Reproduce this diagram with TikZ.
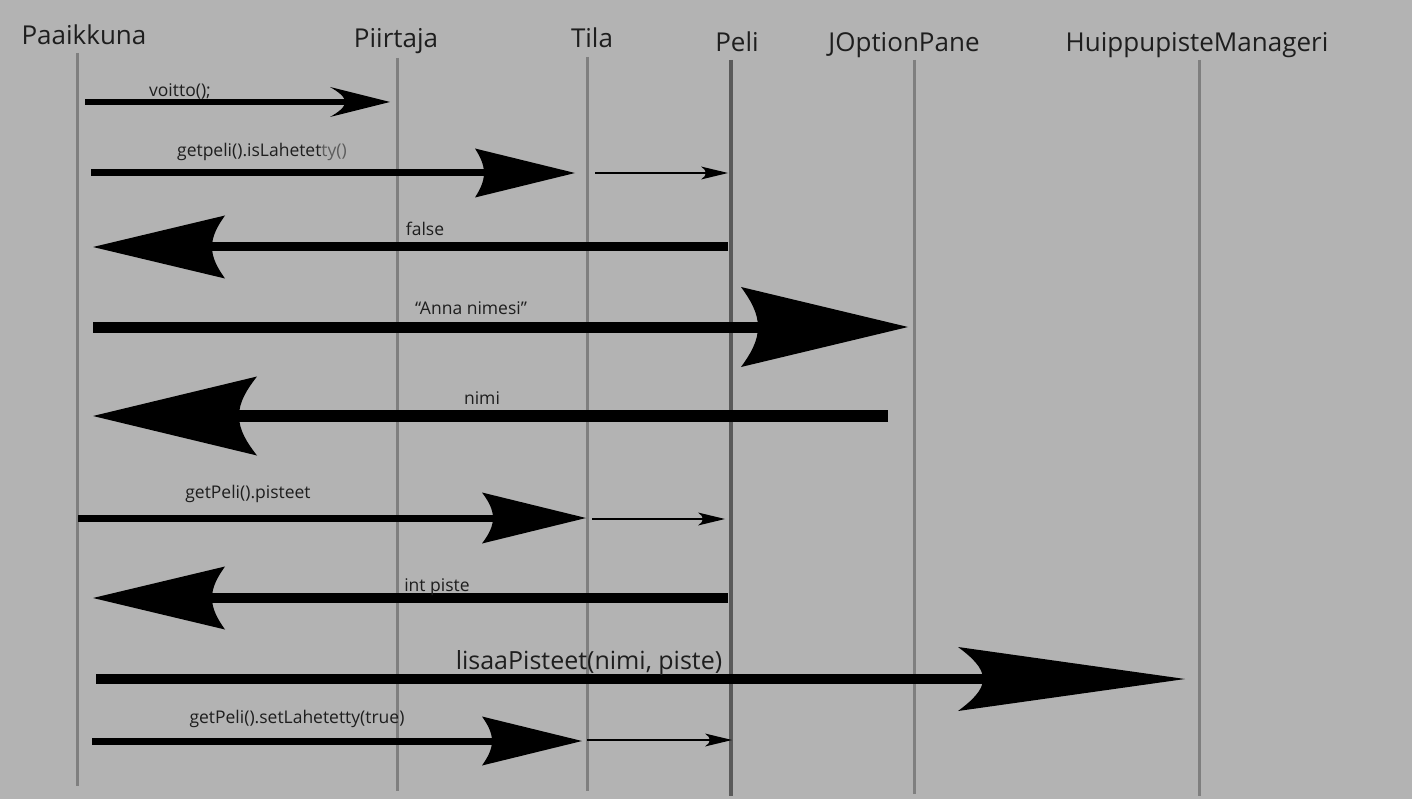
\documentclass[tikz,border=0pt]{standalone}
\usepackage{fontspec}
\setmainfont{Open Sans}
\usetikzlibrary{arrows.meta}
\pgfdeclarearrow{
  name = Barb,
  parameters = {\the\pgfarrowlength,\the\pgfarrowwidth,\the\pgfarrowinset},
  setup code = {
    \pgfarrowssettipend{0pt}
    \pgfarrowssetbackend{-\pgfarrowlength}
    \dimen0=\pgfarrowinset
    \advance\dimen0 by -\pgfarrowlength
    \advance\dimen0 by 0.5pt
    \pgfarrowssetlineend{\dimen0}
    \pgfarrowssavethe\pgfarrowlength
    \pgfarrowssavethe\pgfarrowwidth
    \pgfarrowssavethe\pgfarrowinset
  },
  drawing code = {
    \pgfpathmoveto{\pgfpointorigin}
    \pgfpathlineto{\pgfqpoint{-\pgfarrowlength}{.5\pgfarrowwidth}}
    \pgfpathcurveto
      {\pgfpoint{-\pgfarrowlength+.55*\pgfarrowinset}{.34*\pgfarrowwidth}}
      {\pgfpoint{-\pgfarrowlength+\pgfarrowinset}{.18*\pgfarrowwidth}}
      {\pgfpoint{-\pgfarrowlength+\pgfarrowinset}{0pt}}
    \pgfpathcurveto
      {\pgfpoint{-\pgfarrowlength+\pgfarrowinset}{-.18*\pgfarrowwidth}}
      {\pgfpoint{-\pgfarrowlength+.55*\pgfarrowinset}{-.34*\pgfarrowwidth}}
      {\pgfqpoint{-\pgfarrowlength}{-.5\pgfarrowwidth}}
    \pgfpathclose
    \pgfusepathqfill
  },
  defaults = {length=10pt, width=6pt, inset=2pt}
}
\definecolor{bgc}{HTML}{B3B3B3}
\definecolor{lifec}{HTML}{7F7F7F}
\definecolor{pelic}{HTML}{5A5A5A}
\definecolor{txtc}{HTML}{1E1E1E}
\definecolor{lightc}{HTML}{5C5C5C}
\begin{document}
\begin{tikzpicture}[x=1pt,y=-1pt,
  head/.style={anchor=base, inner sep=0pt, text=txtc, font=\fontsize{26}{30}\selectfont},
  lbl/.style={anchor=base, inner sep=0pt, text=txtc, font=\fontsize{17.5}{21}\selectfont},
  biglbl/.style={anchor=base, inner sep=0pt, text=txtc, font=\fontsize{25}{30}\selectfont},
  life/.style={draw=lifec, line width=3pt},
  msg/.style={draw=black},
  thin/.style={draw=black, line width=2pt, -{Barb[length=27pt,width=13pt,inset=5pt]}}
]
\fill[bgc] (0,0) rectangle (1412,799);
\useasboundingbox (0,0) rectangle (1412,799);

% headers
\node[head] (hPa) at (84,45) {Paaikkuna};
\node[head] (hPi) at (396,48) {Piirtaja};
\node[head] (hTi) at (592,48) {Tila};
\node[head] (hPe) at (737,52) {Peli};
\node[head] (hJo) at (904,52) {JOptionPane};
\node[head] (hHu) at (1197,52) {HuippupisteManageri};

% lifelines
\coordinate (tPa) at (77,53);   \coordinate (bPa) at (77,786);
\coordinate (tPi) at (397,58);  \coordinate (bPi) at (397,791);
\coordinate (tTi) at (587,57);  \coordinate (bTi) at (587,791);
\coordinate (tPe) at (731,60);  \coordinate (bPe) at (731,796);
\coordinate (tJo) at (914,60);  \coordinate (bJo) at (914,794);
\coordinate (tHu) at (1199,60); \coordinate (bHu) at (1199,796);
\draw[life] (tPa) -- (bPa);
\draw[life] (tPi) -- (bPi);
\draw[life] (tTi) -- (bTi);
\draw[draw=pelic, line width=3.5pt] (tPe) -- (bPe);
\draw[life] (tJo) -- (bJo);
\draw[life] (tHu) -- (bHu);

% 1 voitto
\coordinate (m1s) at (85,102); \coordinate (m1e) at (390,102);
\draw[msg, line width=5.5pt, -{Barb[length=60pt,width=30pt,inset=15pt]}] (m1s) -- (m1e);
\node[lbl] (l1) at (180,97) {voitto();};

% 2 isLahetetty
\coordinate (m2s) at (91,173); \coordinate (m2e) at (575,173);
\draw[msg, line width=7pt, -{Barb[length=100pt,width=49pt,inset=9pt]}] (m2s) -- (m2e);
\coordinate (m2bs) at (595,173); \coordinate (m2be) at (728,173);
\draw[thin] (m2bs) -- (m2be);
\node[lbl] (l2) at (262,157) {getpeli().isLahetet\textcolor{lightc}{ty()}};

% 3 false
\coordinate (m3s) at (728,247); \coordinate (m3e) at (93,247);
\draw[msg, line width=9pt, -{Barb[length=132pt,width=63pt,inset=13pt]}] (m3s) -- (m3e);
\node[lbl] (l3) at (425,236) {false};

% 4 Anna nimesi
\coordinate (m4s) at (93,327); \coordinate (m4e) at (908,327);
\draw[msg, line width=11pt, -{Barb[length=167pt,width=80pt,inset=17pt]}] (m4s) -- (m4e);
\node[lbl] (l4) at (471,314) {“Anna nimesi”};

% 5 nimi
\coordinate (m5s) at (888,416); \coordinate (m5e) at (93,416);
\draw[msg, line width=12pt, -{Barb[length=164pt,width=79pt,inset=18pt]}] (m5s) -- (m5e);
\node[lbl] (l5) at (482,404) {nimi};

% 6 pisteet
\coordinate (m6s) at (78,518); \coordinate (m6e) at (586,518);
\draw[msg, line width=7pt, -{Barb[length=104pt,width=51pt,inset=11pt]}] (m6s) -- (m6e);
\coordinate (m6bs) at (592,519); \coordinate (m6be) at (725,519);
\draw[thin] (m6bs) -- (m6be);
\node[lbl] (l6) at (248,498) {getPeli().pisteet};

% 7 int piste
\coordinate (m7s) at (728,598); \coordinate (m7e) at (93,598);
\draw[msg, line width=10pt, -{Barb[length=132pt,width=63pt,inset=13pt]}] (m7s) -- (m7e);
\node[lbl] (l7) at (437,591) {int piste};

% 8 lisaaPisteet
\coordinate (m8s) at (96,679); \coordinate (m8e) at (1185,679);
\draw[msg, line width=10pt, -{Barb[length=227pt,width=64pt,inset=25pt]}] (m8s) -- (m8e);
\node[biglbl] (l8) at (589,669) {lisaaPisteet(nimi, piste)};

% 9 setLahetetty
\coordinate (m9s) at (92,741); \coordinate (m9e) at (582,741);
\draw[msg, line width=7pt, -{Barb[length=100pt,width=49pt,inset=10pt]}] (m9s) -- (m9e);
\coordinate (m9bs) at (587,740); \coordinate (m9be) at (732,740);
\draw[thin] (m9bs) -- (m9be);
\node[lbl] (l9) at (297,723) {getPeli().setLahetetty(true)};
\end{tikzpicture}
\end{document}
